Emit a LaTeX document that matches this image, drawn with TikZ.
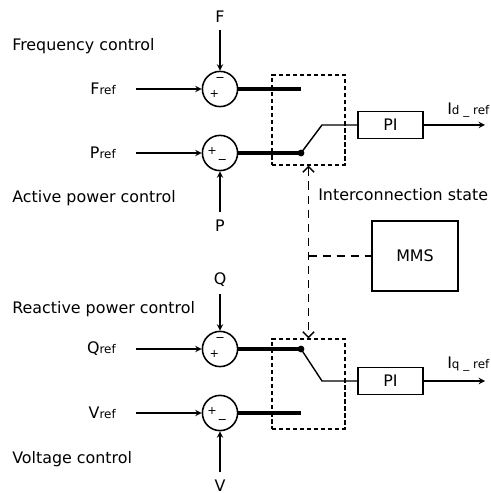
\documentclass[tikz,border=0pt]{standalone}
\usepackage{fontspec}
\setmainfont{DejaVu Sans}
\usetikzlibrary{arrows.meta}

\newcommand{\refsub}[1]{{\fontsize{8.5}{10}\selectfont #1}}

\begin{document}
\begin{tikzpicture}[scale=1.0,>=stealth,
  font=\fontsize{11.3}{13.5}\selectfont,
  sumpt/.style={draw,circle,line width=1.1pt,minimum size=0.88cm,inner sep=0pt},
  sign/.style={font=\fontsize{8}{9}\selectfont,inner sep=0pt},
  block/.style={draw,line width=1pt,minimum width=1.625cm,minimum height=0.675cm},
  sig/.style={->,line width=1pt},
  bus/.style={line width=2.2pt},
  frame/.style={draw,dash pattern=on 3pt off 2pt,line width=1pt,minimum width=1.825cm,minimum height=2.25cm},
  cmd/.style={dash pattern=on 6pt off 4pt,line width=1pt,>={Straight Barb[length=4pt,width=8pt]}},
  txt/.style={anchor=base west,inner sep=0pt}]
  \useasboundingbox (0,0) rectangle (12.275,12.325);

  % control loop titles
  \node[txt] (tFreq) at (0.3,11.06) {Frequency control};
  \node[txt] (tAct) at (0.3,7.27) {Active power control};
  \node[txt] (tReact) at (0.3,4.49) {Reactive power control};
  \node[txt] (tVolt) at (0.3,0.74) {Voltage control};
  \node[txt] (tState) at (7.95,7.31) {Interconnection state};

  % summing points and references
  \foreach \n/\y in {F/10.1,P/8.5,Q/3.6,V/2.0}
  {
    \node[sumpt] (sum\n) at (5.5,\y) {};
    \node[anchor=east,inner sep=0pt] (ref\n) at (2.9,\y) {\n\refsub{ref}};
    \draw[sig] ([xshift=0.5cm]ref\n.east) -- (sum\n);
  }
  % feedback from above and below
  \foreach \n/\y in {F/11.91,Q/5.33,P/6.69,V/0.19}
  {
    \node[inner ysep=5pt] (fb\n) at (5.5,\y) {\n};
    \draw[sig] (fb\n) -- (sum\n);
  }
  \foreach \n in {F,Q}
  {
    \node[sign] (mi\n) at ([yshift=0.23cm]sum\n.center) {−};
    \node[sign] (pl\n) at ([shift={(-0.14,-0.13)}]sum\n.center) {+};
  }
  \foreach \n in {P,V}
  {
    \node[sign] (pl\n) at ([shift={(-0.2,0.05)}]sum\n.center) {+};
    \node[sign] (mi\n) at ([shift={(0.06,-0.21)}]sum\n.center) {−};
  }

  % mode switches
  \node[frame] (swD) at (7.7125,9.325) {};
  \node[frame] (swQ) at (7.7125,2.725) {};
  \coordinate (openF) at (7.525,10.1);
  \coordinate (openV) at (7.525,2.0);
  \node[circle,fill,inner sep=1.7pt] (pivP) at (7.525,8.5) {};
  \node[circle,fill,inner sep=1.7pt] (pivQ) at (7.525,3.6) {};
  \draw[bus] (sumF) -- (openF);
  \draw[bus] (sumP) -- (pivP.center);
  \draw[bus] (sumQ) -- (pivQ.center);
  \draw[bus] (sumV) -- (openV);

  % PI controllers
  \node[block] (piD) at (9.7625,9.2) {PI};
  \node[block] (piQ) at (9.7625,2.8) {PI};
  \coordinate (kneeD) at (8.05,9.2);
  \coordinate (kneeQ) at (8.05,2.8);
  \draw[line width=1pt] (pivP.center) -- (kneeD) -- (piD);
  \draw[line width=1pt] (pivQ.center) -- (kneeQ) -- (piQ);
  \coordinate (outD) at (12.125,9.2);
  \coordinate (outQ) at (12.125,2.8);
  \draw[sig] (piD) -- (outD);
  \draw[sig] (piQ) -- (outQ);
  \node[txt] (lblD) at (11.175,9.45) {I\refsub{d \_ ref}};
  \node[txt] (lblQ) at (11.175,3.1) {I\refsub{q \_ ref}};

  % MMS
  \node[draw,line width=1pt,minimum width=2.15cm,minimum height=1.75cm] (mms) at (10.375,5.925) {MMS};
  \draw[cmd,<->] (swD.south) -- (swQ.north);
  \coordinate (jn) at (7.7125,5.925);
  \draw[cmd] (jn) -- (mms);
\end{tikzpicture}
\end{document}
